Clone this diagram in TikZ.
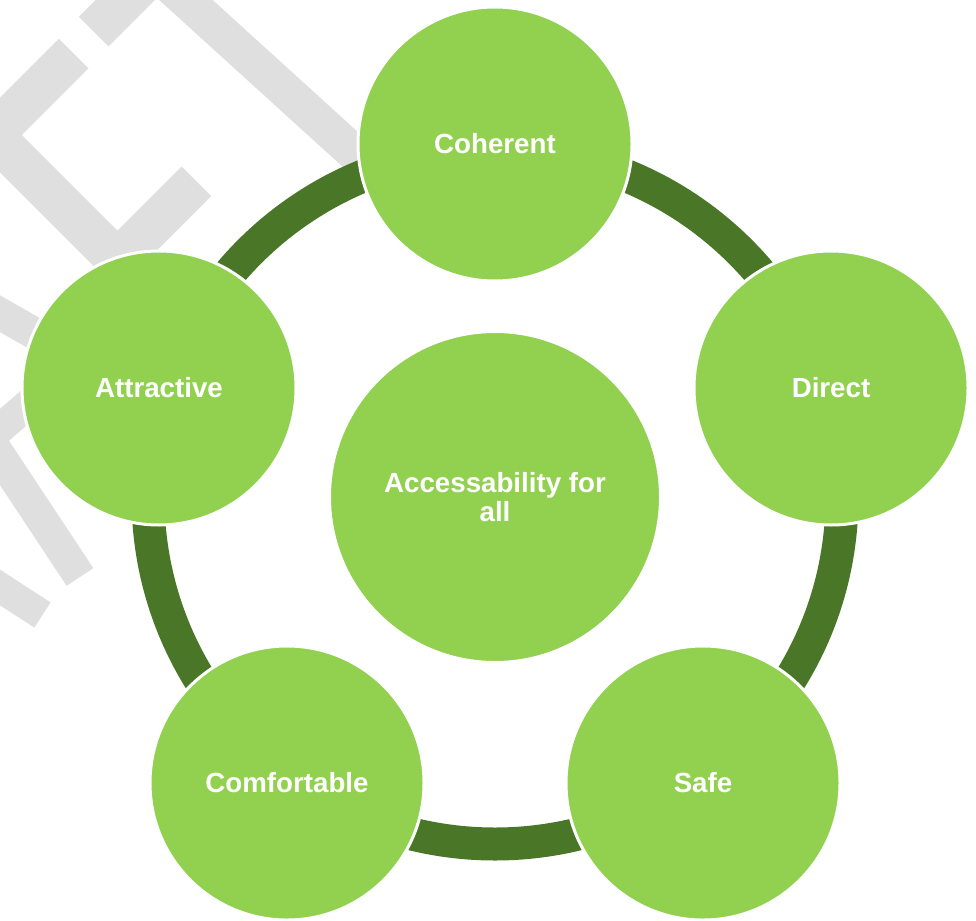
\documentclass[tikz,border=0pt]{standalone}
\usepackage{fontspec}
\setmainfont{Liberation Sans}
\definecolor{lightg}{HTML}{92D050}
\definecolor{darkg}{HTML}{4A7628}
\definecolor{wmgray}{HTML}{DFDFDF}
\begin{document}
\begin{tikzpicture}[x=1pt,y=-1pt,
  wm/.style={draw=wmgray, line cap=butt, line join=miter},
  ring/.style={draw=darkg, line width=33pt},
  bubble/.style={circle, fill=lightg, draw=white, line width=3pt, minimum size=274pt, inner sep=0pt, text=white, font=\fontsize{27.7}{28.5}\selectfont\bfseries, align=center},
  hub/.style={bubble, minimum size=331pt}]
\useasboundingbox (0,0) rectangle (976,920);
\begin{scope}
  \clip (0,0) rectangle (976,920);
  % watermark
  \draw[wm, line width=42pt] (73.65,53.65) -- (-7.7,135) -- (117.5,260.2) -- (196.35,181.35);
  \draw[wm, line width=42pt] (93.65,31.65) -- (153.65,-28.35);
  \draw[wm, line width=36pt] (165,-19) -- (362,160);
  \draw[wm, line width=32pt] (-10,308) -- (60,348);
  \draw[wm, line width=30pt] (-20,446) -- (40,394);
  \draw[wm, line width=32pt] (-10,441) -- (80,577);
  \draw[wm, line width=30pt] (-10,581) -- (42.5,615);
\end{scope}
\coordinate (ctr) at (495,497);
\draw[ring] (ctr) circle[radius=347pt];
\node[hub] (hub) at (ctr) {Accessability for\\all};
\node[bubble] (coh) at (495,144) {Coherent};
\node[bubble] (dir) at (831,388) {Direct};
\node[bubble] (safe) at (703,783) {Safe};
\node[bubble] (comf) at (287,783) {Comfortable};
\node[bubble] (attr) at (159,388) {Attractive};
\end{tikzpicture}
\end{document}
